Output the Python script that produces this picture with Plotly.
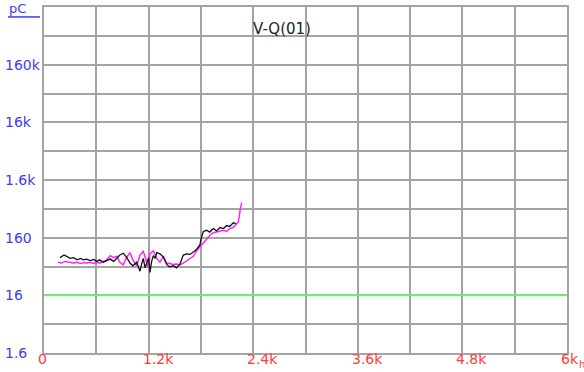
import numpy as np
import plotly.graph_objects as go

# ---------------- data ----------------
title_text = "V-Q(01)"
y_unit = "pC"
x_unit = "h"

x_tick_vals = [0, 1200, 2400, 3600, 4800, 6000]
x_tick_text = ["0", "1.2k", "2.4k", "3.6k", "4.8k", "6k"]
y_tick_vals = [1.6, 16, 160, 1600, 16000, 160000]
y_tick_text = ["1.6", "16", "160", "1.6k", "16k", "160k"]

threshold = 16

black_x = [184, 230, 260, 298, 340, 380, 420, 451, 490, 530, 570, 604, 640, 680, 719,
           760, 800, 834, 870, 910, 950, 986, 1020, 1063, 1101, 1120, 1139, 1160, 1178,
           1200, 1216, 1235, 1254, 1275, 1293, 1331, 1369, 1407, 1440, 1484, 1520, 1560,
           1598, 1637, 1675, 1713, 1750, 1789, 1800, 1828, 1866, 1900, 1942, 1980, 2019,
           2060, 2095, 2130, 2171, 2200]
black_y = [72, 80, 76, 70, 72, 66, 70, 66, 68, 64, 67, 62, 66, 60, 64,
           68, 62, 70, 80, 86, 72, 58, 52, 60, 42, 56, 70, 48, 60,
           72, 40, 62, 78, 70, 88, 84, 74, 55, 50, 52, 48, 56,
           80, 84, 82, 90, 100, 120, 150, 205, 215, 200, 230, 210, 240,
           230, 260, 250, 290, 280]

magenta_x = [160, 200, 240, 298, 340, 380, 420, 451, 490, 530, 570, 604, 640, 680, 719,
             760, 800, 834, 870, 910, 950, 986, 1020, 1063, 1101, 1139, 1178, 1200, 1216,
             1254, 1293, 1331, 1369, 1407, 1440, 1484, 1520, 1560, 1598, 1637, 1675, 1713,
             1750, 1789, 1828, 1866, 1900, 1942, 1980, 2019, 2060, 2095, 2130, 2171, 2200,
             2230, 2250, 2268]
magenta_y = [60, 58, 62, 60, 58, 60, 57, 59, 58, 60, 57, 60, 58, 62, 66,
             78, 72, 76, 60, 54, 74, 88, 66, 52, 80, 92, 60, 48, 84,
             94, 70, 60, 76, 58, 57, 55, 56, 54, 58, 64, 70, 76,
             95, 110, 130, 150, 175, 195, 200, 210, 215, 205, 230, 240, 270,
             300, 480, 650]

# ---------------- figure ----------------
GRID = "#a4a4a4"
BLUE = "#3c3cf0"
RED = "#ff3a3a"
FONT = "DejaVu Sans"
PW, PH = 523, 348  # plot area size in px


def px_x(p):
    return (p - 44) / PW


def px_y(p):
    return (353 - p) / PH


y_lo = np.log10(1.6)
y_grid = [1.6 * 10 ** (k / 2) for k in range(13)]
x_grid = list(range(0, 6001, 600))

fig = go.Figure()
fig.add_trace(go.Scatter(x=[0, 6000], y=[threshold, threshold], mode="lines",
                         line=dict(color="#6fee6f", width=2), hoverinfo="skip"))
fig.add_trace(go.Scatter(x=magenta_x, y=magenta_y, mode="lines",
                         line=dict(color="#ff22ff", width=1.5)))
fig.add_trace(go.Scatter(x=black_x, y=black_y, mode="lines",
                         line=dict(color="#111111", width=1.3)))

fig.update_layout(
    width=584, height=372,
    margin=dict(l=44, r=17, t=5, b=19),
    paper_bgcolor="white", plot_bgcolor="white",
    showlegend=False,
    font=dict(family=FONT, size=14),
)
fig.update_xaxes(range=[0, 6000], tickvals=x_grid, showticklabels=False,
                 showgrid=True, gridcolor=GRID, gridwidth=2,
                 showline=True, linecolor=GRID, linewidth=2, mirror=True,
                 zeroline=False, ticks="")
fig.update_yaxes(type="log", range=[y_lo, y_lo + 6], tickvals=y_grid, showticklabels=False,
                 showgrid=True, gridcolor=GRID, gridwidth=2,
                 showline=True, linecolor=GRID, linewidth=2, mirror=True,
                 zeroline=False, ticks="")

# y tick labels (left aligned)
for v, t in zip(y_tick_vals, y_tick_text):
    fig.add_annotation(x=px_x(3), xref="paper", y=np.log10(v), yref="y",
                       text=t, showarrow=False, xanchor="left", yanchor="middle",
                       font=dict(color=BLUE, size=14, family=FONT))
# x tick labels (left aligned, slightly before grid line)
for v, t in zip(x_tick_vals, x_tick_text):
    fig.add_annotation(x=v, xref="x", y=0, yref="paper", yshift=-6,
                       text=t, showarrow=False, xanchor="left", yanchor="middle",
                       xshift=-7, borderpad=0,
                       font=dict(color=RED, size=14, family=FONT))
# unit labels
fig.add_annotation(x=px_x(7), xref="paper", y=px_y(7), yref="paper", text=y_unit,
                   showarrow=False, xanchor="left", yanchor="middle",
                   font=dict(color=BLUE, size=13, family=FONT))
fig.add_shape(type="line", xref="paper", yref="paper",
              x0=px_x(8), x1=px_x(40), y0=px_y(15), y1=px_y(15),
              line=dict(color=BLUE, width=1.5))
fig.add_annotation(x=px_x(578), xref="paper", y=px_y(365), yref="paper",
                   text=x_unit, showarrow=False, xanchor="left", yanchor="middle",
                   borderpad=0, font=dict(color=RED, size=10, family=FONT))
# title
fig.add_annotation(x=px_x(282), xref="paper", y=px_y(27), yref="paper",
                   text=title_text, showarrow=False, xanchor="center", yanchor="middle",
                   font=dict(color="#222222", size=15, family=FONT))

fig.write_html("out.html")
